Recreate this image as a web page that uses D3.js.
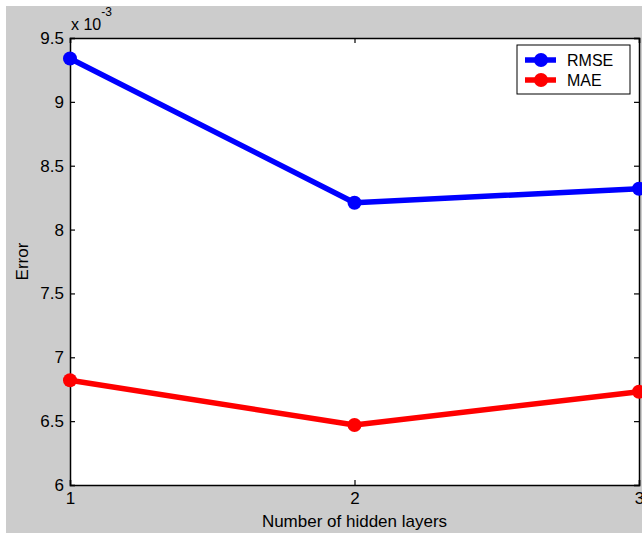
<!DOCTYPE html>
<html>
<head>
<meta charset="utf-8">
<script src="https://cdn.jsdelivr.net/npm/d3@7"></script>
<style>
  html, body { margin: 0; padding: 0; background: #fff; }
  svg { display: block; }
  text { font-family: "Liberation Sans", Arial, sans-serif; fill: #000; }
</style>
</head>
<body>
<div id="chart"></div>
<script>
// hidden layer counts on the x axis
const layers = [1, 2, 3];
// errors in units of 10^-3
const rmse = [9.34, 8.21, 8.32];
const mae = [6.82, 6.47, 6.73];
const yTicks = [6, 6.5, 7, 7.5, 8, 8.5, 9, 9.5];
const seriesNames = ["RMSE", "MAE"];
const seriesColors = ["#0000ff", "#ff0000"];

(function () {
  const W = 642, H = 533;
  const plot = { left: 70, right: 639, top: 38, bottom: 485 };
  const fs = "17px";

  const svg = d3.select("#chart").append("svg")
    .attr("width", W).attr("height", H);

  // figure background (gray), small white strip on top/left
  svg.append("rect").attr("x", 6).attr("y", 6)
    .attr("width", W - 6).attr("height", H - 6)
    .attr("fill", "#cccccc");

  svg.append("rect")
    .attr("x", plot.left).attr("y", plot.top)
    .attr("width", plot.right - plot.left)
    .attr("height", plot.bottom - plot.top)
    .attr("fill", "#fff");

  const x = d3.scaleLinear().domain([1, 3]).range([plot.left, plot.right]);
  const y = d3.scaleLinear().domain([6, 9.5]).range([plot.bottom, plot.top]);

  const tickLen = 5;
  const axisColor = "#000";

  // axes: inward ticks on all four sides
  const left = svg.append("g").attr("transform", `translate(${plot.left},0)`)
    .call(d3.axisLeft(y).tickValues(yTicks).tickSize(-tickLen).tickPadding(6)
      .tickFormat(d3.format("")));
  const right = svg.append("g").attr("transform", `translate(${plot.right},0)`)
    .call(d3.axisRight(y).tickValues(yTicks).tickSize(-tickLen).tickFormat(""));
  const bottom = svg.append("g").attr("transform", `translate(0,${plot.bottom})`)
    .call(d3.axisBottom(x).tickValues(layers).tickSize(-tickLen).tickPadding(8)
      .tickFormat(d3.format("d")));
  const top = svg.append("g").attr("transform", `translate(0,${plot.top})`)
    .call(d3.axisTop(x).tickValues(layers).tickSize(-tickLen).tickFormat(""));

  [left, right, bottom, top].forEach((a) => {
    a.select(".domain").attr("stroke", axisColor).attr("stroke-width", 1.5);
    a.selectAll(".tick line").attr("stroke", axisColor).attr("stroke-width", 1.2);
    a.selectAll(".tick text").attr("font-size", fs).attr("fill", "#000")
      .style("font-family", '"Liberation Sans", Arial, sans-serif');
  });
  bottom.selectAll(".tick text").attr("dy", "0.65em");

  // exponent label
  const ex = svg.append("text").attr("x", 71).attr("y", 30).attr("font-size", "16px");
  ex.append("tspan").text("x 10");
  ex.append("tspan").attr("dy", -14).attr("font-size", "12px").text("-3");

  // axis titles
  svg.append("text")
    .attr("x", (plot.left + plot.right) / 2).attr("y", 527)
    .attr("text-anchor", "middle").attr("font-size", fs)
    .text("Number of hidden layers");
  svg.append("text")
    .attr("transform", `translate(28,${(plot.top + plot.bottom) / 2}) rotate(-90)`)
    .attr("text-anchor", "middle").attr("font-size", fs)
    .text("Error");

  const line = d3.line().x((d) => x(d[0])).y((d) => y(d[1]));
  const series = [rmse, mae].map((vals, i) => ({
    name: seriesNames[i],
    color: seriesColors[i],
    pts: layers.map((l, j) => [l, vals[j]])
  }));

  const marks = svg.append("g");
  series.forEach((s) => {
    marks.append("path").datum(s.pts)
      .attr("d", line).attr("fill", "none")
      .attr("stroke", s.color).attr("stroke-width", 5.5)
      .attr("stroke-linejoin", "round");
    marks.selectAll(null).data(s.pts).join("circle")
      .attr("cx", (d) => x(d[0])).attr("cy", (d) => y(d[1]))
      .attr("r", 7).attr("fill", s.color);
  });

  // legend
  const lg = svg.append("g");
  lg.append("rect").attr("x", 517).attr("y", 45).attr("width", 113).attr("height", 49)
    .attr("fill", "#fff").attr("stroke", "#000").attr("stroke-width", 1);
  series.forEach((s, i) => {
    const ly = 60 + i * 20;
    lg.append("line").attr("x1", 525).attr("x2", 556).attr("y1", ly).attr("y2", ly)
      .attr("stroke", s.color).attr("stroke-width", 5.5);
    lg.append("circle").attr("cx", 541).attr("cy", ly).attr("r", 7).attr("fill", s.color);
    lg.append("text").attr("x", 567).attr("y", ly).attr("dy", "0.35em")
      .attr("font-size", "16px").text(s.name);
  });
})();
</script>
</body>
</html>
